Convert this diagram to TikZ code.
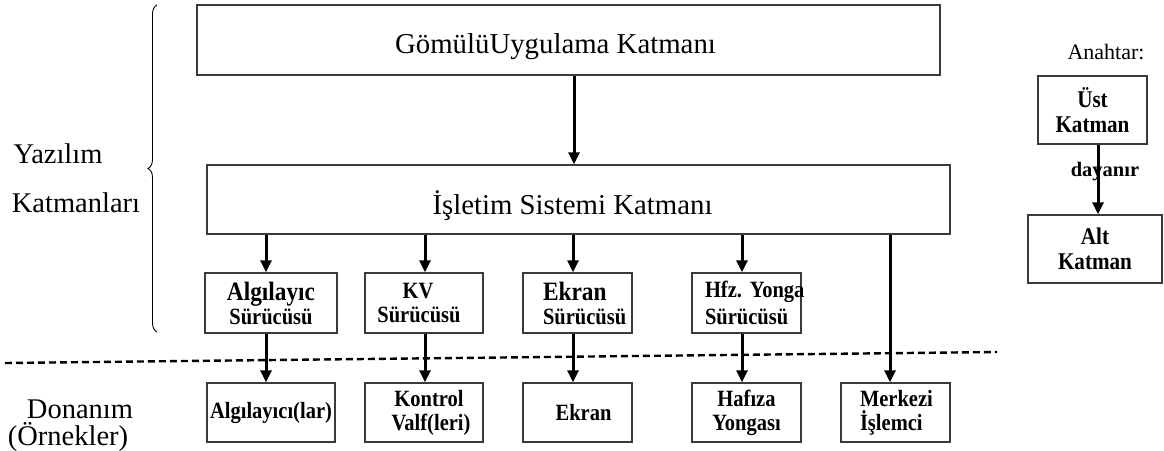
\documentclass[tikz,border=0pt]{standalone}
\usepackage{fontspec}
\setmainfont{Liberation Serif}
% slightly narrowed bold face used inside the small boxes
\newfontfamily\boxfont{Liberation Serif}[FakeStretch=0.88]
\usetikzlibrary{arrows.meta,decorations.pathreplacing}
\definecolor{boxgray}{HTML}{3A3A3A}
\newcommand{\bigline}[1]{{\fontsize{26.5}{24}\selectfont #1}}
\begin{document}
\begin{tikzpicture}[x=1pt,y=-1pt,
  layerbox/.style={draw=boxgray, line width=1.4pt, inner sep=0pt,
    font=\fontsize{28.8}{32}\selectfont},
  smallbox/.style={draw=boxgray, line width=1.4pt, inner sep=0pt,
    font=\boxfont\bfseries\fontsize{23.3}{24}\selectfont, align=center},
  leftbox/.style={smallbox, align=left},
  arr/.style={line width=3pt, -{Triangle[length=12pt,width=11pt]}},
  sidelbl/.style={font=\fontsize{28.5}{32}\selectfont, inner sep=0pt, anchor=base},
]
\useasboundingbox (0,0) rectangle (1164,450);

% software layers
\node[layerbox, minimum width=743pt, minimum height=70pt, text height=26pt, text depth=0pt]
  (app) at (568.5,40) {GömülüUygulama Katmanı\hspace*{26pt}};
\node[layerbox, minimum width=743pt, minimum height=69pt, text height=30pt, text depth=0pt]
  (os) at (578.5,199.5) {İşletim Sistemi Katmanı\hspace*{12pt}};

% drivers
\node[smallbox, minimum width=132pt, minimum height=60pt] (drvA) at (271,303) {\bigline{Algılayıc}\\Sürücüsü};
\node[smallbox, minimum width=118pt, minimum height=60pt] (drvK) at (424,303) {KV\hspace*{12pt}\\Sürücüsü\hspace*{10pt}};
\node[leftbox, minimum width=109pt, minimum height=60pt, inner xsep=20pt, text width=69pt]
  (drvE) at (577.5,303) {\bigline{Ekran}\\Sürücüsü};
\node[leftbox, minimum width=109pt, minimum height=60pt, inner xsep=13pt, text width=83pt]
  (drvH) at (746.5,303) {Hfz.~Yonga\\[3pt]Sürücüsü};

% hardware
\node[smallbox, minimum width=128pt, minimum height=59pt] (hwA) at (271,412.5) {Algılayıcı(lar)};
\node[smallbox, minimum width=118pt, minimum height=59pt] (hwK) at (424,412.5) {\hspace*{10pt}Kontrol\\\hspace*{14pt}Valf(leri)};
\node[smallbox, minimum width=109pt, minimum height=59pt] (hwE) at (577.5,412.5) {\hspace*{12pt}Ekran};
\node[smallbox, minimum width=109pt, minimum height=59pt] (hwH) at (746.5,412.5) {Hafıza\\Yongası};
\node[leftbox, minimum width=109pt, minimum height=59pt, inner xsep=19pt, text width=71pt]
  (hwM) at (895.5,412.5) {Merkezi\\İşlemci};

% arrow columns
\coordinate (cA) at (266,0);
\coordinate (cK) at (425,0);
\coordinate (cE) at (573,0);
\coordinate (cH) at (742,0);
\coordinate (cM) at (890,0);
\coordinate (cT) at (574,0);

\draw[arr] (cT |- app.south) -- (cT |- os.north);
\foreach \c/\d/\h in {cA/drvA/hwA, cK/drvK/hwK, cE/drvE/hwE, cH/drvH/hwH}{
  \draw[arr] (\c |- os.south) -- (\c |- \d.north);
  \draw[arr] (\c |- \d.south) -- (\c |- \h.north);
}
\draw[arr] (cM |- os.south) -- (cM |- hwM.north);

% software / hardware boundary
\coordinate (bndL) at (5,363);
\coordinate (bndR) at (997,352);
\draw[line width=2.4pt, dash pattern=on 7pt off 4pt] (bndL) -- (bndR);

% brace around the software layers
\draw[decorate, decoration={brace, amplitude=9pt}, line width=0.9pt] (157,332) -- (157,5);

% side labels
\node[sidelbl] (swa) at (58,163) {Yazılım};
\node[sidelbl] (swb) at (76,212) {Katmanları};
\node[sidelbl] (hwa) at (80,418) {Donanım};
\node[sidelbl] (hwb) at (68,445) {(Örnekler)};

% key
\node[font=\fontsize{22}{24}\selectfont, inner sep=0pt] (keyt) at (1106,52) {Anahtar:};
\node[smallbox, minimum width=109pt, minimum height=68pt, font=\boxfont\bfseries\fontsize{24}{25}\selectfont]
  (upper) at (1092.5,110) {Üst\\Katman};
\node[smallbox, minimum width=134pt, minimum height=68pt, font=\boxfont\bfseries\fontsize{24}{25}\selectfont]
  (lower) at (1095,249) {Alt\\Katman};
\coordinate (cKey) at (1098,0);
\draw[arr] (cKey |- upper.south) -- (cKey |- lower.north);
\node[font=\bfseries\fontsize{20.5}{24}\selectfont, inner sep=0pt] (dep) at (1105,172) {dayanır};
\end{tikzpicture}
\end{document}
